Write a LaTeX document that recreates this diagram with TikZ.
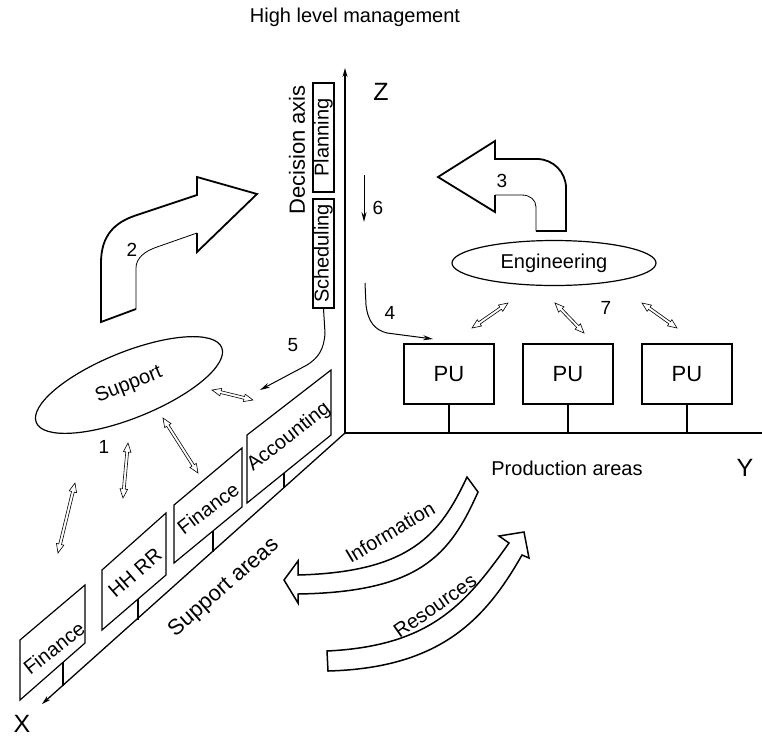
\documentclass[tikz,border=0pt]{standalone}
\usepackage{fontspec}
\setmainfont{Liberation Sans}
\usetikzlibrary{shapes.geometric,arrows.meta,calc}

% hollow two-headed arrow between two named points
\newcommand\hollowdbl[2]{%
  \draw[hollow] (#1)
    -- ($(#1)!9pt!(#2)!3.8pt!90:(#2)$)
    -- ($(#1)!9pt!(#2)!1.4pt!90:(#2)$)
    -- ($(#2)!9pt!(#1)!1.4pt!-90:(#1)$)
    -- ($(#2)!9pt!(#1)!3.8pt!-90:(#1)$)
    -- (#2)
    -- ($(#2)!9pt!(#1)!3.8pt!90:(#1)$)
    -- ($(#2)!9pt!(#1)!1.4pt!90:(#1)$)
    -- ($(#1)!9pt!(#2)!1.4pt!-90:(#2)$)
    -- ($(#1)!9pt!(#2)!3.8pt!-90:(#2)$)
    -- cycle;}

\begin{document}
\begin{tikzpicture}[x=1pt,y=-1pt,
  txt/.style={font=\fontsize{20}{24}\selectfont, inner sep=0pt},
  bigtxt/.style={font=\fontsize{22}{26}\selectfont, inner sep=0pt},
  num/.style={font=\fontsize{19}{22}\selectfont, inner sep=0pt},
  axislbl/.style={font=\fontsize{25}{30}\selectfont, inner sep=0pt},
  axisline/.style={line width=1.3pt},
  frame/.style={draw, line width=1.2pt},
  tipS/.style={-{Stealth[length=9pt,width=5pt]}},
  flow/.style={line width=1pt, -{Stealth[length=10pt,width=5pt]}},
  bigthick/.style={line width=1.8pt, line join=miter},
  bigthin/.style={line width=0.8pt},
  bigflow/.style={line width=1.5pt, line join=miter},
  hollow/.style={draw, line width=0.6pt, fill=white, line join=miter}
]
\useasboundingbox (0,0) rectangle (762,740);

% ---------- axes ----------
\coordinate (O) at (345,433);
\coordinate (zend) at (345,68);
\coordinate (yend) at (762,433);
\coordinate (xend) at (42,704);
\draw[axisline, tipS] (O) -- (zend);
\draw[axisline] (O) -- (yend);
\draw[axisline, tipS] (O) -- (xend);

\node[axislbl] (zlab) at (381,92) {Z};
\node[axislbl] (ylab) at (745,468) {Y};
\node[axislbl] (xlab) at (22,724) {X};

\node[txt] (top) at (355,17) {High level management};
\node[txt] (prod) at (567,468) {Production areas};
\node[bigtxt, rotate=41] (supa) at (224,588) {Support areas};

% ---------- decision axis ----------
\node[bigtxt, rotate=90] (dec) at (297,150) {Decision axis};
\node[frame, txt, rotate=90, minimum width=109pt, minimum height=21pt] (plan) at (323.5,137.5) {Planning};
\node[frame, txt, rotate=90, minimum width=109pt, minimum height=21pt] (sched) at (323.5,253.5) {Scheduling};

% ---------- production units ----------
\node[frame, bigtxt, minimum width=90pt, minimum height=60pt] (pu1) at (449,374) {PU};
\node[frame, bigtxt, minimum width=90pt, minimum height=60pt] (pu2) at (568,374) {PU};
\node[frame, bigtxt, minimum width=90pt, minimum height=60pt] (pu3) at (687,374) {PU};
\draw[line width=1.2pt] (pu1.south) -- (pu1.south |- O);
\draw[line width=1.2pt] (pu2.south) -- (pu2.south |- O);
\draw[line width=1.2pt] (pu3.south) -- (pu3.south |- O);

\node[ellipse, frame, txt, minimum width=204pt, minimum height=45pt] (eng) at (554,263) {Engineering};
\node[ellipse, frame, txt, minimum width=200pt, minimum height=66pt, rotate=22] (sup) at (129,385) {Support};

% ---------- support areas ----------
\draw[frame] (247,503) -- (331,435) -- (331,370) -- (247,435) -- cycle;
\node[txt, rotate=38] (acc) at (289,437) {Accounting};
\draw[frame] (174,563) -- (242,507) -- (242,448) -- (174,505) -- cycle;
\node[txt, rotate=37] (fin2) at (208,508) {Finance};
\draw[frame] (102,630) -- (166,575) -- (166,513) -- (102,570) -- cycle;
\node[txt, rotate=41] (hhrr) at (135,573) {HH RR};
\draw[frame] (20,700) -- (85,643) -- (85,585) -- (20,640) -- cycle;
\node[txt, rotate=38] (fin1) at (54,648) {Finance};

\coordinate (s1a) at (284,473); \coordinate (s1b) at (284,488);
\coordinate (s2a) at (213,531); \coordinate (s2b) at (213,552);
\coordinate (s3a) at (138,599); \coordinate (s3b) at (138,620);
\coordinate (s4a) at (63,662);  \coordinate (s4b) at (63,686);
\draw[line width=1.2pt] (s1a) -- (s1b);
\draw[line width=1.2pt] (s2a) -- (s2b);
\draw[line width=1.2pt] (s3a) -- (s3b);
\draw[line width=1.2pt] (s4a) -- (s4b);

% ---------- hollow exchange arrows ----------
\coordinate (h1a) at (212,390); \coordinate (h1b) at (253,400);
\coordinate (h2a) at (163,418); \coordinate (h2b) at (198,473);
\coordinate (h3a) at (128,443); \coordinate (h3b) at (123,498);
\coordinate (h4a) at (75,483);  \coordinate (h4b) at (58,553);
\hollowdbl{h1a}{h1b}
\hollowdbl{h2a}{h2b}
\hollowdbl{h3a}{h3b}
\hollowdbl{h4a}{h4b}
\node[num] (n1) at (104,447) {1};

\coordinate (e1a) at (508,303); \coordinate (e1b) at (472,328);
\coordinate (e2a) at (555,303); \coordinate (e2b) at (584,333);
\coordinate (e3a) at (642,303); \coordinate (e3b) at (677,328);
\hollowdbl{e1a}{e1b}
\hollowdbl{e2a}{e2b}
\hollowdbl{e3a}{e3b}
\node[num] (n7) at (606,308) {7};

% ---------- thin flows 4, 5, 6 ----------
\coordinate (f6a) at (364,175); \coordinate (f6b) at (364,222);
\draw[flow] (f6a) -- (f6b);
\node[num] (n6) at (378,208) {6};

\coordinate (f4a) at (365,283); \coordinate (f4b) at (433,339);
\draw[flow] (f4a) -- (366,305) .. controls (368,322) and (375,330) .. (387,333) -- (f4b);
\node[num] (n4) at (390,313) {4};

\coordinate (f5b) at (260,390);
\draw[flow] (sched.west) -- (325,333) .. controls (324,350) and (318,358) .. (307,365) -- (f5b);
\node[num] (n5) at (293,345) {5};

% ---------- bent arrow 2 ----------
\draw[bigthick] (197,233) -- (197,252) -- (257,194) -- (197,177) -- (197,195) -- (137,215)
  .. controls (115,222) and (101,235) .. (101,263) -- (101,322) -- (136,309);
\draw[bigthin] (136,309) -- (136,268) .. controls (136,258) and (145,251) .. (157,247) -- (197,233);
\node[num] (n2) at (132,250) {2};

% ---------- bent arrow 3 ----------
\draw[bigthick] (495,195) -- (495,212) -- (438,177) -- (495,141) -- (495,159) -- (537,159)
  .. controls (553,159) and (566,172) .. (566,188) -- (566,231) -- (536,231);
\draw[bigthin] (536,231) -- (536,207) .. controls (536,200) and (530,195) .. (522,195) -- (495,195);
\node[num] (n3) at (502,181) {3};

% ---------- information / resources flows ----------
\draw[bigflow] (467,477) -- (478,492) .. controls (450,555) and (420,592) .. (298,594)
  -- (298,603) -- (284,580) -- (298,561) -- (298,575)
  .. controls (410,572) and (440,535) .. (467,477) -- cycle;
\node[txt, rotate=31] (info) at (390,532) {Information};

\draw[bigflow] (327,651) .. controls (430,646) and (465,605) .. (509,543)
  -- (499,536) -- (524,532) -- (529,558) -- (522,555)
  .. controls (485,620) and (440,668) .. (328,671) -- cycle;
\node[txt, rotate=35] (res) at (435,606) {Resources};

\end{tikzpicture}
\end{document}
